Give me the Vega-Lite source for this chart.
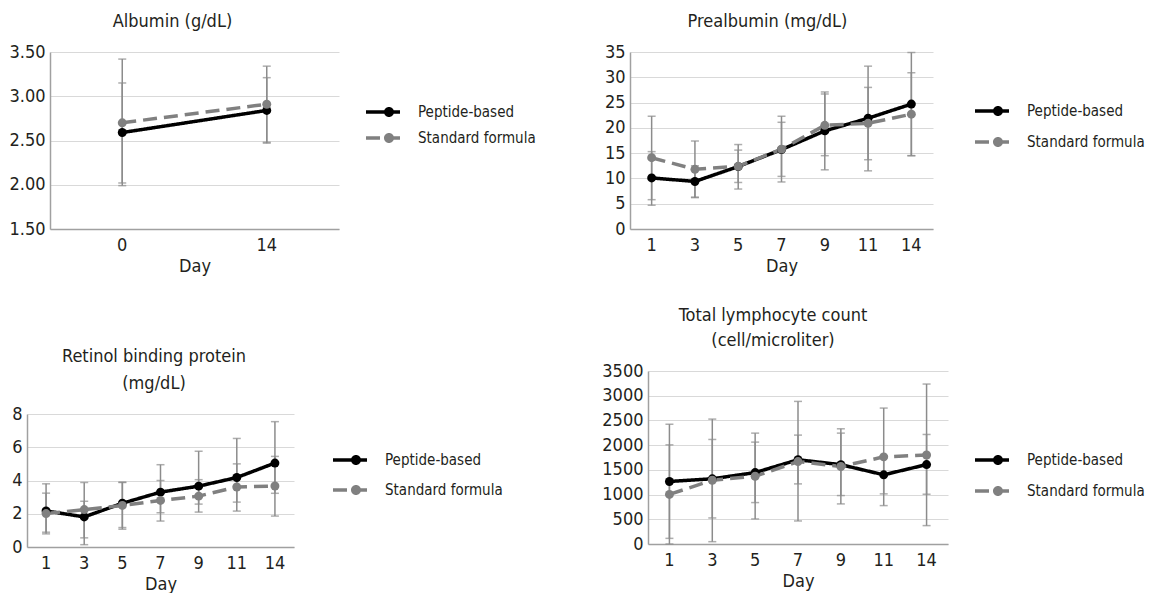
{
  "$schema": "https://vega.github.io/schema/vega-lite/v6.json",
  "padding": {"left": 8, "top": 13, "right": 0, "bottom": 0},
  "background": "white",
  "data": {"values": [
    {"panel": "alb", "day": 0, "group": "Peptide-based", "mean": 2.59, "lo": 2.02, "hi": 3.15},
    {"panel": "alb", "day": 14, "group": "Peptide-based", "mean": 2.84, "lo": 2.47, "hi": 3.21},
    {"panel": "alb", "day": 0, "group": "Standard formula", "mean": 2.70, "lo": 1.99, "hi": 3.42},
    {"panel": "alb", "day": 14, "group": "Standard formula", "mean": 2.91, "lo": 2.48, "hi": 3.34},

    {"panel": "pre", "day": 1, "group": "Peptide-based", "mean": 10.1, "lo": 4.7, "hi": 15.3},
    {"panel": "pre", "day": 3, "group": "Peptide-based", "mean": 9.4, "lo": 6.3, "hi": 12.5},
    {"panel": "pre", "day": 5, "group": "Peptide-based", "mean": 12.35, "lo": 9.2, "hi": 15.6},
    {"panel": "pre", "day": 7, "group": "Peptide-based", "mean": 15.7, "lo": 10.4, "hi": 21.1},
    {"panel": "pre", "day": 9, "group": "Peptide-based", "mean": 19.4, "lo": 11.7, "hi": 27.1},
    {"panel": "pre", "day": 11, "group": "Peptide-based", "mean": 21.9, "lo": 11.5, "hi": 32.2},
    {"panel": "pre", "day": 14, "group": "Peptide-based", "mean": 24.7, "lo": 14.5, "hi": 34.9},
    {"panel": "pre", "day": 1, "group": "Standard formula", "mean": 14.1, "lo": 5.8, "hi": 22.3},
    {"panel": "pre", "day": 3, "group": "Standard formula", "mean": 11.8, "lo": 6.2, "hi": 17.4},
    {"panel": "pre", "day": 5, "group": "Standard formula", "mean": 12.4, "lo": 7.9, "hi": 16.7},
    {"panel": "pre", "day": 7, "group": "Standard formula", "mean": 15.8, "lo": 9.3, "hi": 22.3},
    {"panel": "pre", "day": 9, "group": "Standard formula", "mean": 20.5, "lo": 14.5, "hi": 26.7},
    {"panel": "pre", "day": 11, "group": "Standard formula", "mean": 20.9, "lo": 13.7, "hi": 28.0},
    {"panel": "pre", "day": 14, "group": "Standard formula", "mean": 22.7, "lo": 14.5, "hi": 30.9},

    {"panel": "rbp", "day": 1, "group": "Peptide-based", "mean": 2.17, "lo": 0.79, "hi": 3.8},
    {"panel": "rbp", "day": 3, "group": "Peptide-based", "mean": 1.81, "lo": 0.14, "hi": 2.75},
    {"panel": "rbp", "day": 5, "group": "Peptide-based", "mean": 2.63, "lo": 1.17, "hi": 3.9},
    {"panel": "rbp", "day": 7, "group": "Peptide-based", "mean": 3.3, "lo": 1.56, "hi": 4.95},
    {"panel": "rbp", "day": 9, "group": "Peptide-based", "mean": 3.66, "lo": 2.58, "hi": 5.76},
    {"panel": "rbp", "day": 11, "group": "Peptide-based", "mean": 4.18, "lo": 2.7, "hi": 6.53},
    {"panel": "rbp", "day": 14, "group": "Peptide-based", "mean": 5.05, "lo": 3.23, "hi": 7.54},
    {"panel": "rbp", "day": 1, "group": "Standard formula", "mean": 2.01, "lo": 0.89, "hi": 3.24},
    {"panel": "rbp", "day": 3, "group": "Standard formula", "mean": 2.25, "lo": 0.55, "hi": 3.88},
    {"panel": "rbp", "day": 5, "group": "Standard formula", "mean": 2.5, "lo": 1.07, "hi": 3.88},
    {"panel": "rbp", "day": 7, "group": "Standard formula", "mean": 2.8, "lo": 2.06, "hi": 4.0},
    {"panel": "rbp", "day": 9, "group": "Standard formula", "mean": 3.06, "lo": 2.1, "hi": 4.05},
    {"panel": "rbp", "day": 11, "group": "Standard formula", "mean": 3.61, "lo": 2.16, "hi": 5.0},
    {"panel": "rbp", "day": 14, "group": "Standard formula", "mean": 3.67, "lo": 1.86, "hi": 5.45},

    {"panel": "tlc", "day": 1, "group": "Peptide-based", "mean": 1265, "lo": 114, "hi": 2423},
    {"panel": "tlc", "day": 3, "group": "Peptide-based", "mean": 1319, "lo": 527, "hi": 2115},
    {"panel": "tlc", "day": 5, "group": "Peptide-based", "mean": 1445, "lo": 838, "hi": 2061},
    {"panel": "tlc", "day": 7, "group": "Peptide-based", "mean": 1705, "lo": 1216, "hi": 2203},
    {"panel": "tlc", "day": 9, "group": "Peptide-based", "mean": 1605, "lo": 980, "hi": 2243},
    {"panel": "tlc", "day": 11, "group": "Peptide-based", "mean": 1400, "lo": 1014, "hi": 1786},
    {"panel": "tlc", "day": 14, "group": "Peptide-based", "mean": 1607, "lo": 1007, "hi": 2216},
    {"panel": "tlc", "day": 1, "group": "Standard formula", "mean": 1003, "lo": 0, "hi": 2006},
    {"panel": "tlc", "day": 3, "group": "Standard formula", "mean": 1290, "lo": 47, "hi": 2527},
    {"panel": "tlc", "day": 5, "group": "Standard formula", "mean": 1370, "lo": 507, "hi": 2243},
    {"panel": "tlc", "day": 7, "group": "Standard formula", "mean": 1668, "lo": 466, "hi": 2885},
    {"panel": "tlc", "day": 9, "group": "Standard formula", "mean": 1568, "lo": 811, "hi": 2331},
    {"panel": "tlc", "day": 11, "group": "Standard formula", "mean": 1763, "lo": 777, "hi": 2750},
    {"panel": "tlc", "day": 14, "group": "Standard formula", "mean": 1800, "lo": 372, "hi": 3236}
  ]},
  "resolve": {"scale": {"y": "independent", "x": "independent"}, "legend": {"color": "independent"}},
  "spacing": 65,
  "hconcat": [
    {
      "spacing": 73,
      "resolve": {"scale": {"y": "independent", "x": "independent"}, "legend": {"color": "independent"}},
      "vconcat": [
        {
          "title": {"text": "Albumin (g/dL)", "dx": -22},
          "width": 289, "height": 177,
          "transform": [{"filter": "datum.panel === 'alb'"}],
          "layer": [
            {
              "mark": {"type": "errorbar", "color": "#8c8c8c", "thickness": 1.5, "ticks": {"size": 8, "color": "#8c8c8c", "strokeWidth": 1.5}},
              "encoding": {
                "x": {"field": "day", "type": "ordinal", "title": "Day"},
                "y": {"field": "lo", "type": "quantitative", "title": null, "scale": {"domain": [1.5, 3.5], "nice": false, "zero": false}, "axis": {"values": [1.5, 2, 2.5, 3, 3.5], "format": ".2f", "title": null, "labelOverlap": false}},
                "y2": {"field": "hi"}
              }
            },
            {
              "mark": {"type": "line", "strokeWidth": 3.5, "point": {"filled": true, "size": 80, "opacity": 1}},
              "encoding": {
                "x": {"field": "day", "type": "ordinal", "title": "Day"},
                "y": {"field": "mean", "type": "quantitative", "title": null, "scale": {"domain": [1.5, 3.5], "nice": false, "zero": false}, "axis": {"values": [1.5, 2, 2.5, 3, 3.5], "format": ".2f", "title": null, "labelOverlap": false}},
                "color": {"field": "group", "type": "nominal", "scale": {"domain": ["Peptide-based", "Standard formula"], "range": ["#000000", "#808080"]},
                  "legend": {"orient": "none", "legendX": 323, "legendY": 50, "rowPadding": 8,
                    "encode": {"symbols": {"update": {
                      "shape": {"signal": "datum.value === 'Peptide-based' ? 'M-1.7,-0.18H1.7V0.18H-1.7Z M0.1,0A0.5,0.5 0 1,1 1.1,0A0.5,0.5 0 1,1 0.1,0Z' : 'M-1.7,-0.18H-0.3V0.18H-1.7Z M0.2,-0.18H1.7V0.18H0.2Z M0.1,0A0.5,0.5 0 1,1 1.1,0A0.5,0.5 0 1,1 0.1,0Z'"},
                      "fill": {"signal": "datum.value === 'Peptide-based' ? '#000000' : '#808080'"},
                      "stroke": {"value": "transparent"}, "strokeWidth": {"value": 0}, "size": {"value": 400}, "opacity": {"value": 1}}}}}},
                "strokeDash": {"field": "group", "type": "nominal", "scale": {"domain": ["Peptide-based", "Standard formula"], "range": [[1, 0], [14, 7]]}, "legend": null}
              }
            }
          ]
        },
        {
          "title": {"text": ["Retinol binding protein", "(mg/dL)"], "dx": -18, "lineHeight": 27},
          "width": 244, "height": 133,
          "transform": [{"filter": "datum.panel === 'rbp'"}],
          "layer": [
            {
              "mark": {"type": "errorbar", "color": "#8c8c8c", "thickness": 1.5, "ticks": {"size": 8, "color": "#8c8c8c", "strokeWidth": 1.5}},
              "encoding": {
                "x": {"field": "day", "type": "ordinal", "title": "Day", "scale": {"range": [-23, 244]}},
                "y": {"field": "lo", "type": "quantitative", "title": null, "scale": {"domain": [0, 8], "nice": false}, "axis": {"values": [0, 2, 4, 6, 8], "title": null, "labelOverlap": false, "offset": 23}},
                "y2": {"field": "hi"}
              }
            },
            {
              "mark": {"type": "line", "strokeWidth": 3.5, "point": {"filled": true, "size": 80, "opacity": 1}},
              "encoding": {
                "x": {"field": "day", "type": "ordinal", "title": "Day", "scale": {"range": [-23, 244]}},
                "y": {"field": "mean", "type": "quantitative", "title": null, "scale": {"domain": [0, 8], "nice": false}, "axis": {"values": [0, 2, 4, 6, 8], "title": null, "labelOverlap": false, "offset": 23}},
                "color": {"field": "group", "type": "nominal", "scale": {"domain": ["Peptide-based", "Standard formula"], "range": ["#000000", "#808080"]},
                  "legend": {"orient": "none", "legendX": 290, "legendY": 36, "rowPadding": 12,
                    "encode": {"symbols": {"update": {
                      "shape": {"signal": "datum.value === 'Peptide-based' ? 'M-1.7,-0.18H1.7V0.18H-1.7Z M0.1,0A0.5,0.5 0 1,1 1.1,0A0.5,0.5 0 1,1 0.1,0Z' : 'M-1.7,-0.18H-0.3V0.18H-1.7Z M0.2,-0.18H1.7V0.18H0.2Z M0.1,0A0.5,0.5 0 1,1 1.1,0A0.5,0.5 0 1,1 0.1,0Z'"},
                      "fill": {"signal": "datum.value === 'Peptide-based' ? '#000000' : '#808080'"},
                      "stroke": {"value": "transparent"}, "strokeWidth": {"value": 0}, "size": {"value": 400}, "opacity": {"value": 1}}}}}},
                "strokeDash": {"field": "group", "type": "nominal", "scale": {"domain": ["Peptide-based", "Standard formula"], "range": [[1, 0], [14, 7]]}, "legend": null}
              }
            }
          ]
        }
      ]
    },
    {
      "spacing": 32,
      "resolve": {"scale": {"y": "independent", "x": "independent"}, "legend": {"color": "independent"}},
      "vconcat": [
        {
          "title": {"text": "Prealbumin (mg/dL)", "dx": -23},
          "width": 285, "height": 177,
          "transform": [{"filter": "datum.panel === 'pre'"}],
          "layer": [
            {
              "mark": {"type": "errorbar", "color": "#8c8c8c", "thickness": 1.5, "ticks": {"size": 8, "color": "#8c8c8c", "strokeWidth": 1.5}},
              "encoding": {
                "x": {"field": "day", "type": "ordinal", "title": "Day", "scale": {"range": [-18, 285]}},
                "y": {"field": "lo", "type": "quantitative", "title": null, "scale": {"domain": [0, 35], "nice": false}, "axis": {"values": [0, 5, 10, 15, 20, 25, 30, 35], "title": null, "labelOverlap": false, "offset": 18}},
                "y2": {"field": "hi"}
              }
            },
            {
              "mark": {"type": "line", "strokeWidth": 3.5, "point": {"filled": true, "size": 80, "opacity": 1}},
              "encoding": {
                "x": {"field": "day", "type": "ordinal", "title": "Day", "scale": {"range": [-18, 285]}},
                "y": {"field": "mean", "type": "quantitative", "title": null, "scale": {"domain": [0, 35], "nice": false}, "axis": {"values": [0, 5, 10, 15, 20, 25, 30, 35], "title": null, "labelOverlap": false, "offset": 18}},
                "color": {"field": "group", "type": "nominal", "scale": {"domain": ["Peptide-based", "Standard formula"], "range": ["#000000", "#808080"]},
                  "legend": {"orient": "none", "legendX": 334, "legendY": 49, "rowPadding": 13,
                    "encode": {"symbols": {"update": {
                      "shape": {"signal": "datum.value === 'Peptide-based' ? 'M-1.7,-0.18H1.7V0.18H-1.7Z M0.1,0A0.5,0.5 0 1,1 1.1,0A0.5,0.5 0 1,1 0.1,0Z' : 'M-1.7,-0.18H-0.3V0.18H-1.7Z M0.2,-0.18H1.7V0.18H0.2Z M0.1,0A0.5,0.5 0 1,1 1.1,0A0.5,0.5 0 1,1 0.1,0Z'"},
                      "fill": {"signal": "datum.value === 'Peptide-based' ? '#000000' : '#808080'"},
                      "stroke": {"value": "transparent"}, "strokeWidth": {"value": 0}, "size": {"value": 400}, "opacity": {"value": 1}}}}}},
                "strokeDash": {"field": "group", "type": "nominal", "scale": {"domain": ["Peptide-based", "Standard formula"], "range": [[1, 0], [14, 7]]}, "legend": null}
              }
            }
          ]
        },
        {
          "title": {"text": ["Total lymphocyte count", "(cell/microliter)"], "dx": -25},
          "width": 300, "height": 173,
          "transform": [{"filter": "datum.panel === 'tlc'"}],
          "layer": [
            {
              "mark": {"type": "errorbar", "color": "#8c8c8c", "thickness": 1.5, "ticks": {"size": 8, "color": "#8c8c8c", "strokeWidth": 1.5}},
              "encoding": {
                "x": {"field": "day", "type": "ordinal", "title": "Day"},
                "y": {"field": "lo", "type": "quantitative", "title": null, "scale": {"domain": [0, 3500], "nice": false}, "axis": {"values": [0, 500, 1000, 1500, 2000, 2500, 3000, 3500], "format": "d", "title": null, "labelOverlap": false}},
                "y2": {"field": "hi"}
              }
            },
            {
              "mark": {"type": "line", "strokeWidth": 3.5, "point": {"filled": true, "size": 80, "opacity": 1}},
              "encoding": {
                "x": {"field": "day", "type": "ordinal", "title": "Day"},
                "y": {"field": "mean", "type": "quantitative", "title": null, "scale": {"domain": [0, 3500], "nice": false}, "axis": {"values": [0, 500, 1000, 1500, 2000, 2500, 3000, 3500], "format": "d", "title": null, "labelOverlap": false}},
                "color": {"field": "group", "type": "nominal", "scale": {"domain": ["Peptide-based", "Standard formula"], "range": ["#000000", "#808080"]},
                  "legend": {"orient": "none", "legendX": 334, "legendY": 79, "rowPadding": 13,
                    "encode": {"symbols": {"update": {
                      "shape": {"signal": "datum.value === 'Peptide-based' ? 'M-1.7,-0.18H1.7V0.18H-1.7Z M0.1,0A0.5,0.5 0 1,1 1.1,0A0.5,0.5 0 1,1 0.1,0Z' : 'M-1.7,-0.18H-0.3V0.18H-1.7Z M0.2,-0.18H1.7V0.18H0.2Z M0.1,0A0.5,0.5 0 1,1 1.1,0A0.5,0.5 0 1,1 0.1,0Z'"},
                      "fill": {"signal": "datum.value === 'Peptide-based' ? '#000000' : '#808080'"},
                      "stroke": {"value": "transparent"}, "strokeWidth": {"value": 0}, "size": {"value": 400}, "opacity": {"value": 1}}}}}},
                "strokeDash": {"field": "group", "type": "nominal", "scale": {"domain": ["Peptide-based", "Standard formula"], "range": [[1, 0], [14, 7]]}, "legend": null}
              }
            }
          ]
        }
      ]
    }
  ],
  "config": {
    "font": "DejaVu Sans Condensed",
    "view": {"stroke": null},
    "axis": {
      "labelFont": "DejaVu Sans Condensed", "labelFontSize": 18, "labelColor": "#231f20",
      "titleFont": "DejaVu Sans Condensed", "titleFontSize": 18, "titleFontWeight": "normal", "titleColor": "#231f20",
      "domainColor": "#a0a0a0", "domainWidth": 1.5, "ticks": false, "tickSize": 0,
      "gridColor": "#d9d9d9", "gridWidth": 1.2, "labelPadding": 5, "labelOverlap": false
    },
    "axisX": {"grid": false, "labelAngle": 0, "titlePadding": 3, "labelPadding": 7},
    "axisY": {"grid": true},
    "title": {"font": "DejaVu Sans Condensed", "fontSize": 18, "fontWeight": "normal", "color": "#231f20", "anchor": "middle", "frame": "group", "offset": 12, "lineHeight": 25},
    "legend": {"title": null, "labelFont": "DejaVu Sans Condensed", "labelFontSize": 15, "labelColor": "#231f20", "symbolSize": 400, "labelOffset": 25, "padding": 0}
  }
}
